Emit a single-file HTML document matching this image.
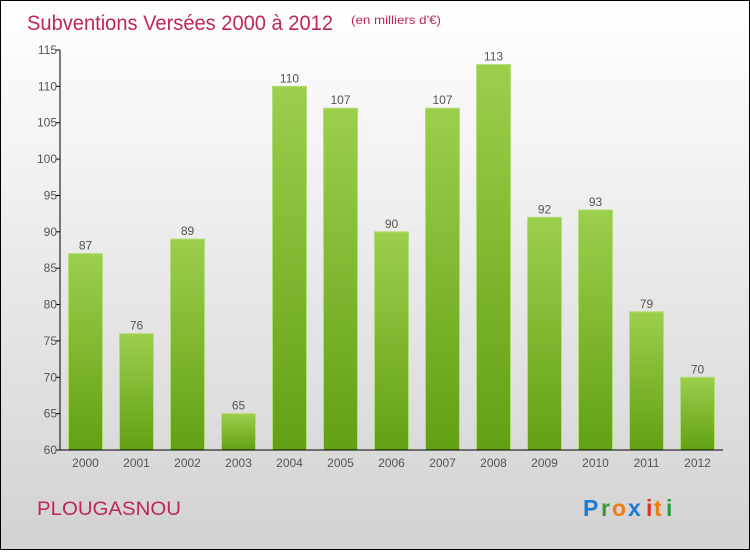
<!DOCTYPE html>
<html><head><meta charset="utf-8"><style>
body{margin:0;width:750px;height:550px;overflow:hidden;font-family:"Liberation Sans",sans-serif}
#root{position:relative;width:748px;height:548px;border:1px solid #000;background:linear-gradient(#ffffff 0%,#f4f4f4 25%,#d2d2d2 100%)}
</style></head><body>
<div id="root">
<svg id="svg" width="748" height="548">
<defs><linearGradient id="g" x1="0" y1="0" x2="0" y2="1"><stop offset="0" stop-color="#9ccf4c"/><stop offset="1" stop-color="#62a014"/></linearGradient></defs>
<text x="26" y="29" font-size="21" fill="#c0245e" textLength="306" lengthAdjust="spacingAndGlyphs">Subventions Versées 2000 à 2012</text>
<text x="350" y="23" font-size="12" fill="#c0245e" textLength="90" lengthAdjust="spacingAndGlyphs">(en milliers d'€)</text>
<text x="36" y="514" font-size="19" fill="#c0245e" textLength="144" lengthAdjust="spacingAndGlyphs">PLOUGASNOU</text>
<g font-size="23" font-weight="bold">
<text x="582" y="515" fill="#1a7ad4">P</text><text x="600" y="515" fill="#3a9a3a">r</text><text x="611" y="515" fill="#f07d10">o</text><text x="627" y="515" fill="#1a7ad4">x</text><text x="645" y="515" fill="#e03020">i</text><text x="653" y="515" fill="#f07d10">t</text><text x="665" y="515" fill="#2a9a3a">i</text></g>
<g id="plot"></g>
</svg></div>
<script>
const years=["2000","2001","2002","2003","2004","2005","2006","2007","2008","2009","2010","2011","2012"];
const values=[87,76,89,65,110,107,90,107,113,92,93,79,70];
const yTicks=[60,65,70,75,80,85,90,95,100,105,110,115];
const ns="http://www.w3.org/2000/svg";
const plot=document.getElementById('plot');
const y0=449,y1=49,vmin=60,vmax=115,xl=59,step=51,bw=34;
const Y=v=>y0-(v-vmin)/(vmax-vmin)*(y0-y1);
const X=i=>xl+step*(i+0.5);
function mk(t,a){const e=document.createElementNS(ns,t);for(const k in a)e.setAttribute(k,a[k]);plot.appendChild(e);return e;}
values.forEach((v,i)=>{
const r=mk('rect',{x:X(i)-bw/2,y:Y(v),width:bw,height:y0-Y(v),fill:'url(#g)',stroke:'#b4dc78','stroke-width':1});


const t=mk('text',{x:X(i),y:Y(v)-4,'text-anchor':'middle','font-size':12,fill:'#555'});t.textContent=v;


const xt=mk('text',{x:X(i),y:466,'text-anchor':'middle','font-size':12,fill:'#555'});xt.textContent=years[i];


});
yTicks.forEach(v=>{
mk('line',{x1:xl-4,x2:xl,y1:Y(v),y2:Y(v),stroke:'#000'});
const t=mk('text',{x:xl-3,y:Y(v)+4,'text-anchor':'end','font-size':12,fill:'#555'});t.textContent=v;


});
const ya=mk('line',{x1:xl,x2:xl,y1:y1,y2:y0,stroke:'#000'});


const xa=mk('line',{x1:xl,x2:xl+step*13,y1:y0,y2:y0,stroke:'#000'});


</script>
</body></html>
